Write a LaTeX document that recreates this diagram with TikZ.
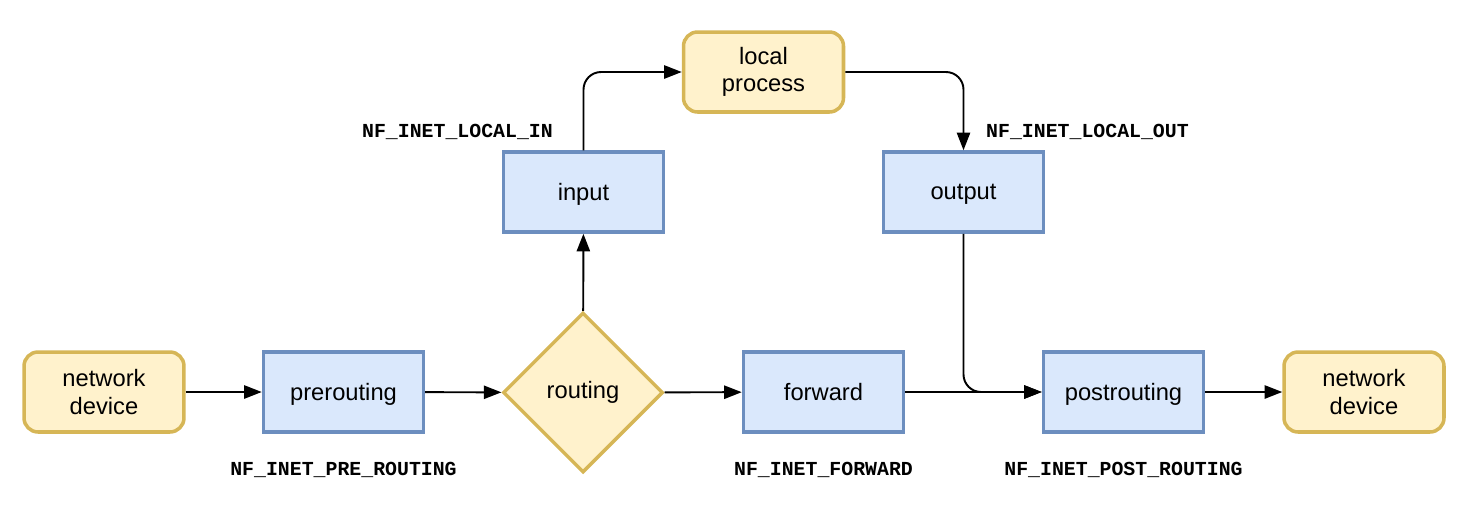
\documentclass[tikz,border=0pt]{standalone}
\usepackage{fontspec}
\setmainfont{Liberation Sans}
\setmonofont{Liberation Mono}
\usetikzlibrary{arrows.meta,shapes.geometric}
\definecolor{ylwfill}{HTML}{FFF2CC}
\definecolor{ylwline}{HTML}{D6B656}
\definecolor{bluefill}{HTML}{DAE8FC}
\definecolor{blueline}{HTML}{6C8EBF}
\begin{document}
\begin{tikzpicture}[x=0.02cm, y=-0.02cm, every node/.style={font=\fontsize{13.5}{15.5}\selectfont},
  dev/.style={draw=ylwline, fill=ylwfill, line width=2pt, rounded corners=8pt, minimum width=3.2cm, minimum height=1.6cm, align=center},
  hook/.style={draw=blueline, fill=bluefill, line width=2pt, minimum width=3.2cm, minimum height=1.6cm, align=center, text depth=0.5pt},
  lbl/.style={font=\ttfamily\bfseries\fontsize{11.3}{13}\selectfont},
  flow/.style={line width=1.1pt, -{Triangle[length=10pt,width=7.5pt]}, rounded corners=10pt}]
  \useasboundingbox (0,0) rectangle (1474,504);
  \node[dev] (devin) at (104,392) {network\\device};
  \node[hook] (pre) at (343.5,392) {prerouting};
  \node[diamond, aspect=1, draw=ylwline, fill=ylwfill, line width=2pt, minimum width=3.2cm, minimum height=3.2cm, inner sep=0pt] (route) at (583,392.5) {routing};
  \node[hook] (fwd) at (823.5,392) {forward};
  \node[hook] (post) at (1123.5,392) {postrouting};
  \node[dev] (devout) at (1364,392) {network\\device};
  \node[hook] (in) at (583.5,192) {input};
  \node[hook] (out) at (963.5,192) {output};
  \node[dev] (local) at (763.5,72) {local\\process};
  \node[lbl, anchor=east] (lin) at (559,132) {NF\_INET\_LOCAL\_IN};
  \node[lbl, anchor=west] (lout) at (980,132) {NF\_INET\_LOCAL\_OUT};
  \node[lbl] (lpre) at (343.5,470) {NF\_INET\_PRE\_ROUTING};
  \node[lbl] (lfwd) at (823.5,470) {NF\_INET\_FORWARD};
  \node[lbl] (lpost) at (1123.5,470) {NF\_INET\_POST\_ROUTING};
  \draw[flow] (devin) -- (pre);
  \draw[flow] (pre) -- (route);
  \draw[flow] (route) -- (in);
  \draw[flow] (in.north) |- (local.west);
  \draw[flow] (local.east) -| (out.north);
  \draw[flow] (route) -- (fwd);
  \draw[flow] (fwd) -- (post);
  \draw[flow] (out.south) |- (post.west);
  \draw[flow] (post) -- (devout);
\end{tikzpicture}
\end{document}
